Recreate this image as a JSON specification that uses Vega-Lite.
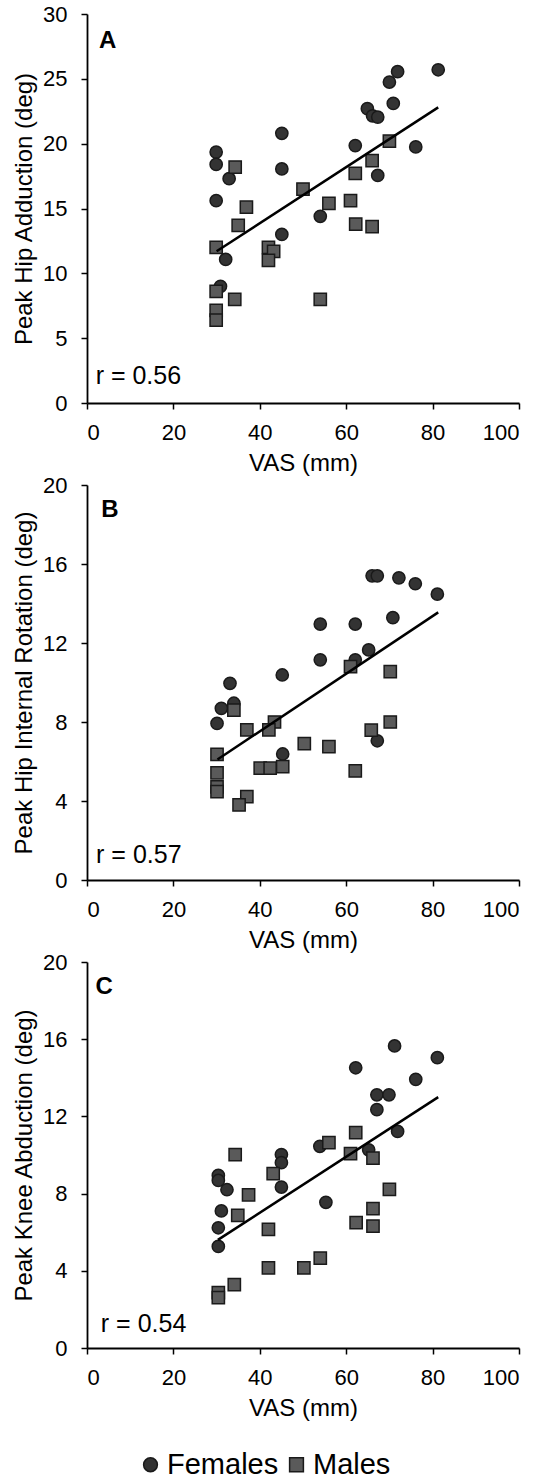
{
  "$schema": "https://vega.github.io/schema/vega-lite/v6.json",
  "padding": {"left": 12, "top": 3, "right": 5, "bottom": 5},
  "background": "white",
  "datasets": {
    "ptsA": [
      {"vas": 29.9, "val": 19.35, "sex": "Females"},
      {"vas": 29.9, "val": 18.4, "sex": "Females"},
      {"vas": 32.9, "val": 17.3, "sex": "Females"},
      {"vas": 29.9, "val": 15.6, "sex": "Females"},
      {"vas": 45.1, "val": 20.8, "sex": "Females"},
      {"vas": 45.1, "val": 18.05, "sex": "Females"},
      {"vas": 45.1, "val": 13.0, "sex": "Females"},
      {"vas": 54.0, "val": 14.4, "sex": "Females"},
      {"vas": 62.1, "val": 19.85, "sex": "Females"},
      {"vas": 64.9, "val": 22.7, "sex": "Females"},
      {"vas": 66.1, "val": 22.15, "sex": "Females"},
      {"vas": 67.3, "val": 22.05, "sex": "Females"},
      {"vas": 67.3, "val": 17.55, "sex": "Females"},
      {"vas": 70.0, "val": 24.75, "sex": "Females"},
      {"vas": 70.9, "val": 23.1, "sex": "Females"},
      {"vas": 71.9, "val": 25.55, "sex": "Females"},
      {"vas": 76.1, "val": 19.75, "sex": "Females"},
      {"vas": 81.3, "val": 25.7, "sex": "Females"},
      {"vas": 32.1, "val": 11.07, "sex": "Females"},
      {"vas": 30.9, "val": 9.0, "sex": "Females"},
      {"vas": 34.3, "val": 18.2, "sex": "Males"},
      {"vas": 36.9, "val": 15.1, "sex": "Males"},
      {"vas": 35.0, "val": 13.7, "sex": "Males"},
      {"vas": 50.0, "val": 16.5, "sex": "Males"},
      {"vas": 56.0, "val": 15.4, "sex": "Males"},
      {"vas": 61.0, "val": 15.6, "sex": "Males"},
      {"vas": 62.1, "val": 17.7, "sex": "Males"},
      {"vas": 62.2, "val": 13.8, "sex": "Males"},
      {"vas": 66.0, "val": 13.6, "sex": "Males"},
      {"vas": 66.0, "val": 18.7, "sex": "Males"},
      {"vas": 70.0, "val": 20.2, "sex": "Males"},
      {"vas": 29.9, "val": 12.0, "sex": "Males"},
      {"vas": 42.0, "val": 12.0, "sex": "Males"},
      {"vas": 43.2, "val": 11.7, "sex": "Males"},
      {"vas": 42.0, "val": 11.0, "sex": "Males"},
      {"vas": 29.9, "val": 8.6, "sex": "Males"},
      {"vas": 34.2, "val": 8.0, "sex": "Males"},
      {"vas": 29.9, "val": 7.15, "sex": "Males"},
      {"vas": 29.9, "val": 6.4, "sex": "Males"},
      {"vas": 54.0, "val": 8.0, "sex": "Males"}
    ],
    "ptsB": [
      {"vas": 66.0, "val": 15.4, "sex": "Females"},
      {"vas": 67.2, "val": 15.4, "sex": "Females"},
      {"vas": 72.2, "val": 15.3, "sex": "Females"},
      {"vas": 76.0, "val": 15.0, "sex": "Females"},
      {"vas": 81.1, "val": 14.47, "sex": "Females"},
      {"vas": 70.8, "val": 13.28, "sex": "Females"},
      {"vas": 54.0, "val": 12.96, "sex": "Females"},
      {"vas": 62.1, "val": 12.96, "sex": "Females"},
      {"vas": 54.0, "val": 11.15, "sex": "Females"},
      {"vas": 62.1, "val": 11.15, "sex": "Females"},
      {"vas": 65.2, "val": 11.65, "sex": "Females"},
      {"vas": 45.2, "val": 10.38, "sex": "Females"},
      {"vas": 33.1, "val": 9.96, "sex": "Females"},
      {"vas": 34.0, "val": 8.95, "sex": "Females"},
      {"vas": 31.1, "val": 8.69, "sex": "Females"},
      {"vas": 30.1, "val": 7.93, "sex": "Females"},
      {"vas": 45.3, "val": 6.38, "sex": "Females"},
      {"vas": 67.2, "val": 7.05, "sex": "Females"},
      {"vas": 61.0, "val": 10.8, "sex": "Males"},
      {"vas": 70.2, "val": 10.55, "sex": "Males"},
      {"vas": 34.0, "val": 8.6, "sex": "Males"},
      {"vas": 43.4, "val": 8.0, "sex": "Males"},
      {"vas": 37.0, "val": 7.6, "sex": "Males"},
      {"vas": 42.1, "val": 7.6, "sex": "Males"},
      {"vas": 50.3, "val": 6.9, "sex": "Males"},
      {"vas": 56.0, "val": 6.75, "sex": "Males"},
      {"vas": 30.1, "val": 6.36, "sex": "Males"},
      {"vas": 30.1, "val": 5.43, "sex": "Males"},
      {"vas": 30.1, "val": 4.72, "sex": "Males"},
      {"vas": 30.1, "val": 4.47, "sex": "Males"},
      {"vas": 40.1, "val": 5.66, "sex": "Males"},
      {"vas": 42.4, "val": 5.66, "sex": "Males"},
      {"vas": 45.3, "val": 5.74, "sex": "Males"},
      {"vas": 37.0, "val": 4.22, "sex": "Males"},
      {"vas": 35.2, "val": 3.8, "sex": "Males"},
      {"vas": 62.1, "val": 5.52, "sex": "Males"},
      {"vas": 65.8, "val": 7.59, "sex": "Males"},
      {"vas": 70.2, "val": 8.0, "sex": "Males"}
    ],
    "ptsC": [
      {"vas": 71.2, "val": 15.65, "sex": "Females"},
      {"vas": 81.1, "val": 15.04, "sex": "Females"},
      {"vas": 62.2, "val": 14.52, "sex": "Females"},
      {"vas": 76.1, "val": 13.92, "sex": "Females"},
      {"vas": 67.1, "val": 13.12, "sex": "Females"},
      {"vas": 69.9, "val": 13.12, "sex": "Females"},
      {"vas": 67.1, "val": 12.35, "sex": "Females"},
      {"vas": 71.9, "val": 11.22, "sex": "Females"},
      {"vas": 53.9, "val": 10.45, "sex": "Females"},
      {"vas": 65.2, "val": 10.27, "sex": "Females"},
      {"vas": 45.0, "val": 10.02, "sex": "Females"},
      {"vas": 45.0, "val": 9.6, "sex": "Females"},
      {"vas": 45.0, "val": 8.34, "sex": "Females"},
      {"vas": 30.4, "val": 8.94, "sex": "Females"},
      {"vas": 30.4, "val": 8.68, "sex": "Females"},
      {"vas": 32.4, "val": 8.2, "sex": "Females"},
      {"vas": 55.3, "val": 7.55, "sex": "Females"},
      {"vas": 31.1, "val": 7.1, "sex": "Females"},
      {"vas": 30.4, "val": 6.23, "sex": "Females"},
      {"vas": 30.4, "val": 5.26, "sex": "Females"},
      {"vas": 34.3, "val": 10.02, "sex": "Males"},
      {"vas": 43.1, "val": 9.03, "sex": "Males"},
      {"vas": 37.4, "val": 7.94, "sex": "Males"},
      {"vas": 56.0, "val": 10.64, "sex": "Males"},
      {"vas": 62.2, "val": 11.16, "sex": "Males"},
      {"vas": 61.0, "val": 10.07, "sex": "Males"},
      {"vas": 66.2, "val": 9.84, "sex": "Males"},
      {"vas": 70.0, "val": 8.22, "sex": "Males"},
      {"vas": 34.9, "val": 6.87, "sex": "Males"},
      {"vas": 42.0, "val": 6.15, "sex": "Males"},
      {"vas": 62.3, "val": 6.49, "sex": "Males"},
      {"vas": 66.2, "val": 7.22, "sex": "Males"},
      {"vas": 66.2, "val": 6.32, "sex": "Males"},
      {"vas": 42.0, "val": 4.15, "sex": "Males"},
      {"vas": 50.2, "val": 4.15, "sex": "Males"},
      {"vas": 54.0, "val": 4.66, "sex": "Males"},
      {"vas": 34.1, "val": 3.28, "sex": "Males"},
      {"vas": 30.4, "val": 2.87, "sex": "Males"},
      {"vas": 30.4, "val": 2.61, "sex": "Males"}
    ],
    "lineA": [{"vas": 30.0, "val": 11.7}, {"vas": 81.3, "val": 22.8}],
    "lineB": [{"vas": 30.2, "val": 6.1}, {"vas": 81.3, "val": 13.55}],
    "lineC": [{"vas": 30.3, "val": 5.6}, {"vas": 81.3, "val": 13.0}],
    "one": [{"k": 1}]
  },
  "spacing": 82,
  "bounds": "flush",
  "vconcat": [
    {
      "width": 432,
      "height": 389,
      "layer": [
        {
          "data": {"name": "ptsA"},
          "mark": {"type": "point", "filled": true, "size": 150, "stroke": "#1a1a1a", "strokeWidth": 1.5, "opacity": 1},
          "encoding": {
            "x": {"field": "vas", "type": "quantitative", "scale": {"domain": [0, 100], "nice": false}, "axis": {"values": [0, 20, 40, 60, 80, 100], "title": "VAS (mm)"}},
            "y": {"field": "val", "type": "quantitative", "scale": {"domain": [0, 30], "nice": false}, "axis": {"values": [0, 5, 10, 15, 20, 25, 30], "title": "Peak Hip Adduction (deg)"}},
            "shape": {"field": "sex", "type": "nominal", "scale": {"domain": ["Females", "Males"], "range": ["circle", "square"]}, "legend": {"orient": "none", "legendX": 49, "legendY": 1436, "direction": "horizontal", "title": null}},
            "color": {"field": "sex", "type": "nominal", "scale": {"domain": ["Females", "Males"], "range": ["#333333", "#5a5a5a"]}, "legend": {"orient": "none", "legendX": 49, "legendY": 1436, "direction": "horizontal", "title": null}}
          }
        },
        {
          "data": {"name": "lineA"},
          "mark": {"type": "line", "color": "#000000", "strokeWidth": 2.5},
          "encoding": {"x": {"field": "vas", "type": "quantitative"}, "y": {"field": "val", "type": "quantitative"}}
        },
        {
          "data": {"name": "one"},
          "mark": {"type": "text", "fontSize": 24, "fontWeight": "bold", "align": "center", "baseline": "middle", "font": "Liberation Sans", "color": "#000000"},
          "encoding": {"x": {"datum": 4.8}, "y": {"datum": 27.94}, "text": {"value": "A"}}
        },
        {
          "data": {"name": "one"},
          "mark": {"type": "text", "fontSize": 25, "align": "left", "baseline": "alphabetic", "font": "Liberation Sans", "color": "#000000"},
          "encoding": {"x": {"datum": 2}, "y": {"datum": 1.5}, "text": {"value": "r = 0.56"}}
        }
      ]
    },
    {
      "width": 432,
      "height": 395,
      "layer": [
        {
          "data": {"name": "ptsB"},
          "mark": {"type": "point", "filled": true, "size": 150, "stroke": "#1a1a1a", "strokeWidth": 1.5, "opacity": 1},
          "encoding": {
            "x": {"field": "vas", "type": "quantitative", "scale": {"domain": [0, 100], "nice": false}, "axis": {"values": [0, 20, 40, 60, 80, 100], "title": "VAS (mm)"}},
            "y": {"field": "val", "type": "quantitative", "scale": {"domain": [0, 20], "nice": false}, "axis": {"values": [0, 4, 8, 12, 16, 20], "title": "Peak Hip Internal Rotation (deg)"}},
            "shape": {"field": "sex", "type": "nominal"},
            "color": {"field": "sex", "type": "nominal"}
          }
        },
        {
          "data": {"name": "lineB"},
          "mark": {"type": "line", "color": "#000000", "strokeWidth": 2.5},
          "encoding": {"x": {"field": "vas", "type": "quantitative"}, "y": {"field": "val", "type": "quantitative"}}
        },
        {
          "data": {"name": "one"},
          "mark": {"type": "text", "fontSize": 24, "fontWeight": "bold", "align": "center", "baseline": "middle", "font": "Liberation Sans", "color": "#000000"},
          "encoding": {"x": {"datum": 5.3}, "y": {"datum": 18.73}, "text": {"value": "B"}}
        },
        {
          "data": {"name": "one"},
          "mark": {"type": "text", "fontSize": 25, "align": "left", "baseline": "alphabetic", "font": "Liberation Sans", "color": "#000000"},
          "encoding": {"x": {"datum": 2.1}, "y": {"datum": 0.85}, "text": {"value": "r = 0.57"}}
        }
      ]
    },
    {
      "width": 432,
      "height": 386,
      "layer": [
        {
          "data": {"name": "ptsC"},
          "mark": {"type": "point", "filled": true, "size": 150, "stroke": "#1a1a1a", "strokeWidth": 1.5, "opacity": 1},
          "encoding": {
            "x": {"field": "vas", "type": "quantitative", "scale": {"domain": [0, 100], "nice": false}, "axis": {"values": [0, 20, 40, 60, 80, 100], "title": "VAS (mm)"}},
            "y": {"field": "val", "type": "quantitative", "scale": {"domain": [0, 20], "nice": false}, "axis": {"values": [0, 4, 8, 12, 16, 20], "title": "Peak Knee Abduction (deg)"}},
            "shape": {"field": "sex", "type": "nominal"},
            "color": {"field": "sex", "type": "nominal"}
          }
        },
        {
          "data": {"name": "lineC"},
          "mark": {"type": "line", "color": "#000000", "strokeWidth": 2.5},
          "encoding": {"x": {"field": "vas", "type": "quantitative"}, "y": {"field": "val", "type": "quantitative"}}
        },
        {
          "data": {"name": "one"},
          "mark": {"type": "text", "fontSize": 24, "fontWeight": "bold", "align": "center", "baseline": "middle", "font": "Liberation Sans", "color": "#000000"},
          "encoding": {"x": {"datum": 4.0}, "y": {"datum": 18.72}, "text": {"value": "C"}}
        },
        {
          "data": {"name": "one"},
          "mark": {"type": "text", "fontSize": 25, "align": "left", "baseline": "alphabetic", "font": "Liberation Sans", "color": "#000000"},
          "encoding": {"x": {"datum": 3.2}, "y": {"datum": 0.83}, "text": {"value": "r = 0.54"}}
        }
      ]
    }
  ],
  "resolve": {"scale": {"y": "independent"}},
  "config": {
    "view": {"stroke": null},
    "font": "Liberation Sans",
    "axis": {
      "grid": false,
      "domainColor": "#000000",
      "domainWidth": 1.8,
      "tickColor": "#000000",
      "tickWidth": 1.5,
      "tickSize": 6,
      "labelFont": "Liberation Sans",
      "labelFontSize": 22,
      "labelColor": "#000000",
      "titleFont": "Liberation Sans",
      "titleFontSize": 24,
      "titleFontWeight": "normal",
      "titleColor": "#000000"
    },
    "axisX": {"labelPadding": 13, "titlePadding": 8},
    "axisY": {"labelPadding": 14, "titlePadding": 6},
    "legend": {
      "labelFont": "Liberation Sans",
      "labelFontSize": 29,
      "labelColor": "#000000",
      "symbolSize": 190,
      "symbolStrokeColor": "#1a1a1a",
      "symbolStrokeWidth": 1.5,
      "labelOffset": 2,
      "columnPadding": 3
    }
  }
}
